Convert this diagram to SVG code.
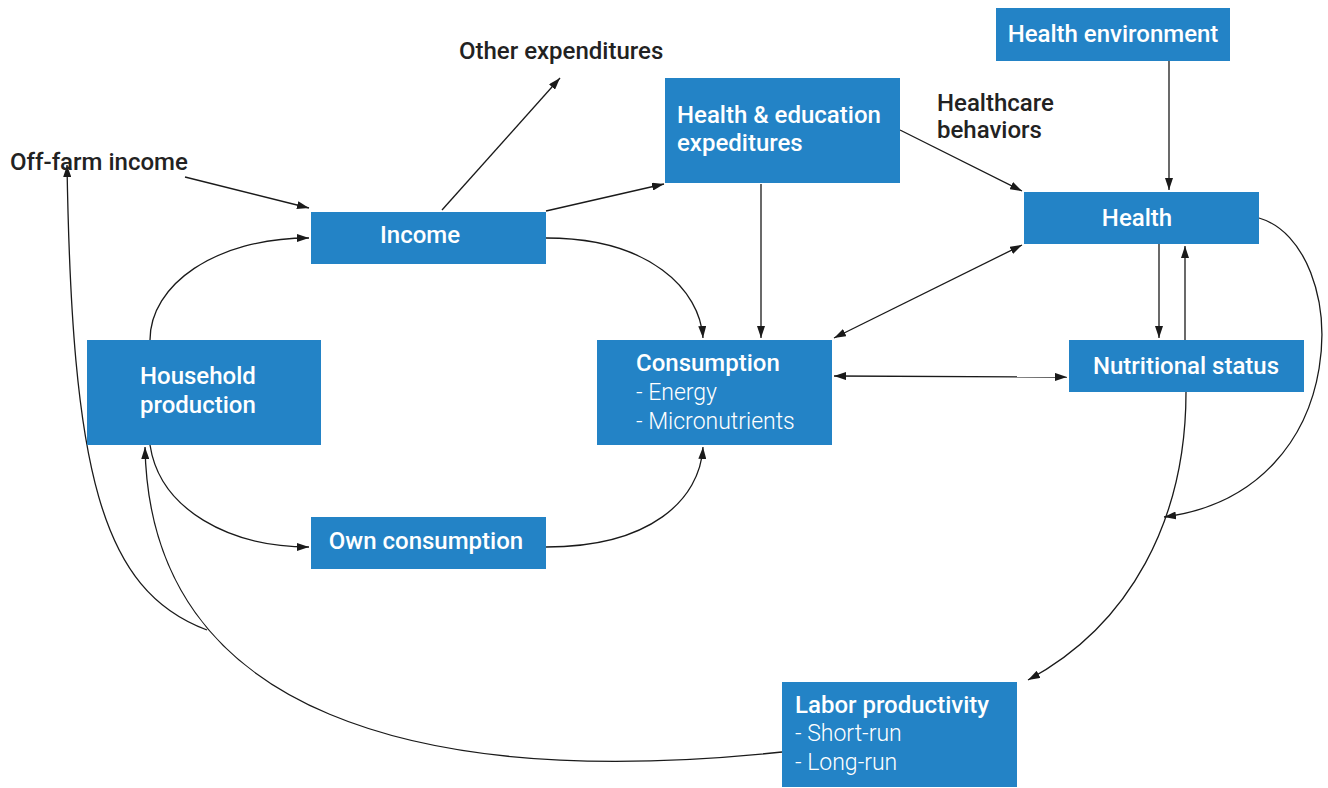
<svg xmlns="http://www.w3.org/2000/svg" width="1328" height="788" viewBox="0 0 1328 788">
<style>
.box{fill:#2383c6}
.t{font-family:Roboto,"Liberation Sans",Arial,sans-serif;font-size:24px;fill:#fff;font-weight:500}
.s{font-family:Roboto,"Liberation Sans",Arial,sans-serif;font-size:23px;fill:#fff;font-weight:300}
.lab{font-family:Roboto,"Liberation Sans",Arial,sans-serif;font-size:24px;fill:#222;font-weight:500}
.c{fill:none;stroke:#1a1a1a;stroke-width:1.3}
</style>
<defs>
<marker id="a" viewBox="0 0 12 8" refX="12" refY="4" markerWidth="12" markerHeight="8" markerUnits="userSpaceOnUse" orient="auto-start-reverse">
<path d="M0,0 L12,4 L0,8 Z" fill="#1a1a1a"/>
</marker>
</defs>
<rect width="1328" height="788" fill="#fff"/>
<g id="connectors">
<path class="c" d="M185,177 L309,208" marker-end="url(#a)"/>
<path class="c" d="M442,210 L560,78" marker-end="url(#a)"/>
<path class="c" d="M546,211 L664,184" marker-end="url(#a)"/>
<path class="c" d="M900,130 L1022,191" marker-end="url(#a)"/>
<path class="c" d="M1169,61 L1169,190" marker-end="url(#a)"/>
<path class="c" d="M150,340 C150,285 215,238 309,238" marker-end="url(#a)"/>
<path class="c" d="M546,238 C650,238 700,290 703,338" marker-end="url(#a)"/>
<path class="c" d="M761,184 L761,338" marker-end="url(#a)"/>
<path class="c" d="M1022,245 L834,338" marker-start="url(#a)" marker-end="url(#a)"/>
<path class="c" d="M834,376 L1067,377" marker-start="url(#a)" marker-end="url(#a)"/>
<path class="c" d="M1159,244 L1159,338" marker-end="url(#a)"/>
<path class="c" d="M1185,340 L1185,246" marker-end="url(#a)"/>
<path class="c" d="M1259,218 C1352,245 1358,492 1164,517" marker-end="url(#a)"/>
<path class="c" d="M1186,392 C1186,520 1130,625 1028,680" marker-end="url(#a)"/>
<path class="c" d="M150,445 C160,510 230,547 309,547" marker-end="url(#a)"/>
<path class="c" d="M546,547 C650,547 700,500 703,447" marker-end="url(#a)"/>
<path class="c" d="M782,752 C420,790 150,715 145,447" marker-end="url(#a)"/>
<path class="c" d="M207,630 C100,590 72,470 67,165" marker-end="url(#a)"/>
</g>
<g id="n-healthenv"><rect class="box" x="996" y="8" width="234" height="53"/><text class="t" x="1113" y="42" text-anchor="middle">Health environment</text></g>
<g id="n-hedu"><rect class="box" x="665" y="78" width="235" height="105"/><text class="t" x="677" y="123">Health &amp; education</text><text class="t" x="677" y="151">expeditures</text></g>
<g id="n-health"><rect class="box" x="1024" y="192" width="235" height="52"/><text class="t" x="1137" y="226" text-anchor="middle">Health</text></g>
<g id="n-income"><rect class="box" x="311" y="212" width="235" height="52"/><text class="t" x="420" y="243" text-anchor="middle">Income</text></g>
<g id="n-hhprod"><rect class="box" x="87" y="340" width="234" height="105"/><text class="t" x="140" y="384">Household</text><text class="t" x="140" y="413">production</text></g>
<g id="n-consumption"><rect class="box" x="597" y="340" width="235" height="105"/><text class="t" x="636" y="371">Consumption</text><text class="s" x="636" y="400">- Energy</text><text class="s" x="636" y="429">- Micronutrients</text></g>
<g id="n-nutr"><rect class="box" x="1069" y="340" width="235" height="52"/><text class="t" x="1186" y="374" text-anchor="middle">Nutritional status</text></g>
<g id="n-owncons"><rect class="box" x="311" y="517" width="235" height="52"/><text class="t" x="426" y="549" text-anchor="middle">Own consumption</text></g>
<g id="n-labor"><rect class="box" x="782" y="682" width="235" height="105"/><text class="t" x="795" y="713">Labor productivity</text><text class="s" x="795" y="741">- Short-run</text><text class="s" x="795" y="770">- Long-run</text></g>
<g id="labels">
<text class="lab" x="459" y="59">Other expenditures</text>
<text class="lab" x="10" y="170">Off-farm income</text>
<text class="lab" x="937" y="111">Healthcare</text>
<text class="lab" x="937" y="138">behaviors</text>
</g>
</svg>
